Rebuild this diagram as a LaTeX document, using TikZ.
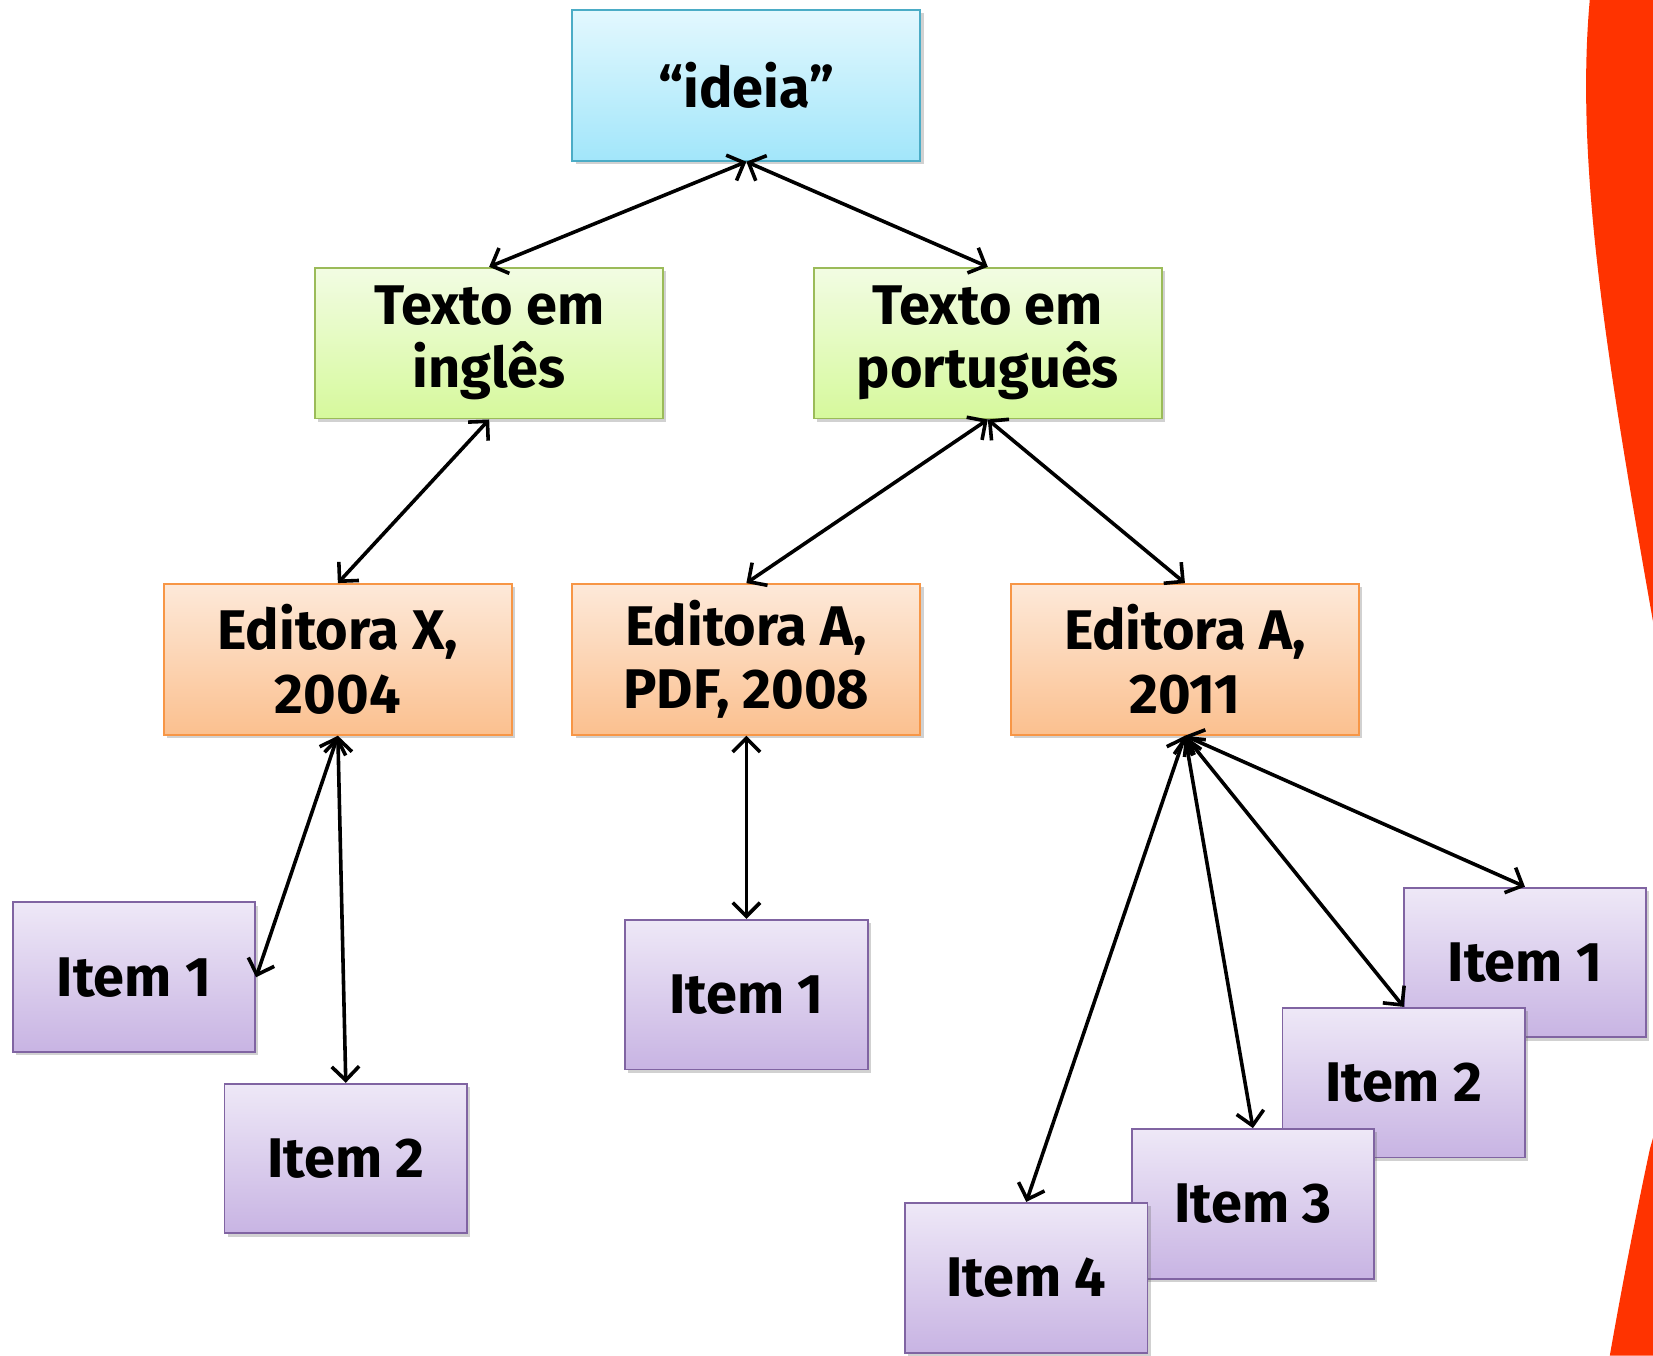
\documentclass[tikz,border=0pt]{standalone}
\usepackage{fontspec}
\setmainfont{Fira Sans}
\usetikzlibrary{arrows.meta,shadows}
\definecolor{bluetop}{HTML}{E3F8FE}
\definecolor{bluebot}{HTML}{A2E6FA}
\definecolor{blueline}{HTML}{4BACC6}
\definecolor{greentop}{HTML}{F2FCE3}
\definecolor{greenbot}{HTML}{D6F99C}
\definecolor{greenline}{HTML}{9BBB59}
\definecolor{orangetop}{HTML}{FDE9D9}
\definecolor{orangebot}{HTML}{FBC08F}
\definecolor{orangeline}{HTML}{F79646}
\definecolor{purpletop}{HTML}{EEE8F7}
\definecolor{purplebot}{HTML}{C8B4E3}
\definecolor{purpleline}{HTML}{8064A2}
\definecolor{redshape}{HTML}{FF3300}
\begin{document}
\begin{tikzpicture}[x=0.5pt,y=-0.5pt,
  box/.style={draw, line width=0.9pt, minimum width=165pt, minimum height=71.5pt,
    inner sep=0pt, align=center, font=\bfseries\fontsize{26.5}{30}\selectfont,
    drop shadow={shadow xshift=1.5pt,shadow yshift=-1.5pt,opacity=0.3,fill=black!60}},
  itembox/.style={box, minimum width=115pt, minimum height=71pt},
  bluebox/.style={box, draw=blueline, top color=bluetop, bottom color=bluebot},
  greenbox/.style={box, draw=greenline, top color=greentop, bottom color=greenbot},
  orangebox/.style={box, draw=orangeline, top color=orangetop, bottom color=orangebot},
  purplebox/.style={itembox, draw=purpleline, top color=purpletop, bottom color=purplebot},
  link/.style={draw=black, line width=1.7pt, {Straight Barb[length=6.5pt,width=13pt]}-{Straight Barb[length=6.5pt,width=13pt]}}
]
\useasboundingbox (0,0) rectangle (1568,1286);
\begin{scope}
  \clip (0,0) rectangle (1568,1286);
  \fill[redshape] (1508,0) .. controls (1490,200) and (1545,450) .. (1605,800)
    .. controls (1625,920) and (1590,1000) .. (1565,1090)
    .. controls (1548,1170) and (1535,1240) .. (1527,1286)
    -- (1700,1286) -- (1700,0) -- cycle;
\end{scope}

\node[bluebox] (ideia) at (708,81) {“ideia”};
\node[greenbox] (ti) at (464,325.5) {Texto em\\inglês};
\node[greenbox] (tp) at (937,325.5) {Texto em\\português};
\node[orangebox] (ex) at (320.5,625.5) {Editora X,\\2004};
\node[orangebox] (ea8) at (708,625.5) {Editora A,\\PDF, 2008};
\node[orangebox] (ea11) at (1124,625.5) {Editora A,\\2011};

\node[purplebox] (i1l) at (127,927) {Item 1};
\node[purplebox] (i2l) at (328,1099) {Item 2};
\node[purplebox] (i1m) at (708,943.5) {Item 1};

\node[purplebox] (r1) at (1446.5,913) {Item 1};
\node[purplebox] (r2) at (1331.5,1027) {Item 2};
\node[purplebox] (r3) at (1188.5,1142) {Item 3};
\node[purplebox] (r4) at (973.5,1212) {Item 4};

\draw[link] (ideia.south) -- (ti.north);
\draw[link] (ideia.south) -- (tp.north);
\draw[link] (ti.south) -- (ex.north);
\draw[link] (tp.south) -- (ea8.north);
\draw[link] (tp.south) -- (ea11.north);
\draw[link] (ex.south) -- (i1l.east);
\draw[link] (ex.south) -- (i2l.north);
\draw[link] (ea8.south) -- (i1m.north);
\draw[link] (ea11.south) -- (r1.north);
\draw[link] (ea11.south) -- (r2.north);
\draw[link] (ea11.south) -- (r3.north);
\draw[link] (ea11.south) -- (r4.north);
\end{tikzpicture}
\end{document}
